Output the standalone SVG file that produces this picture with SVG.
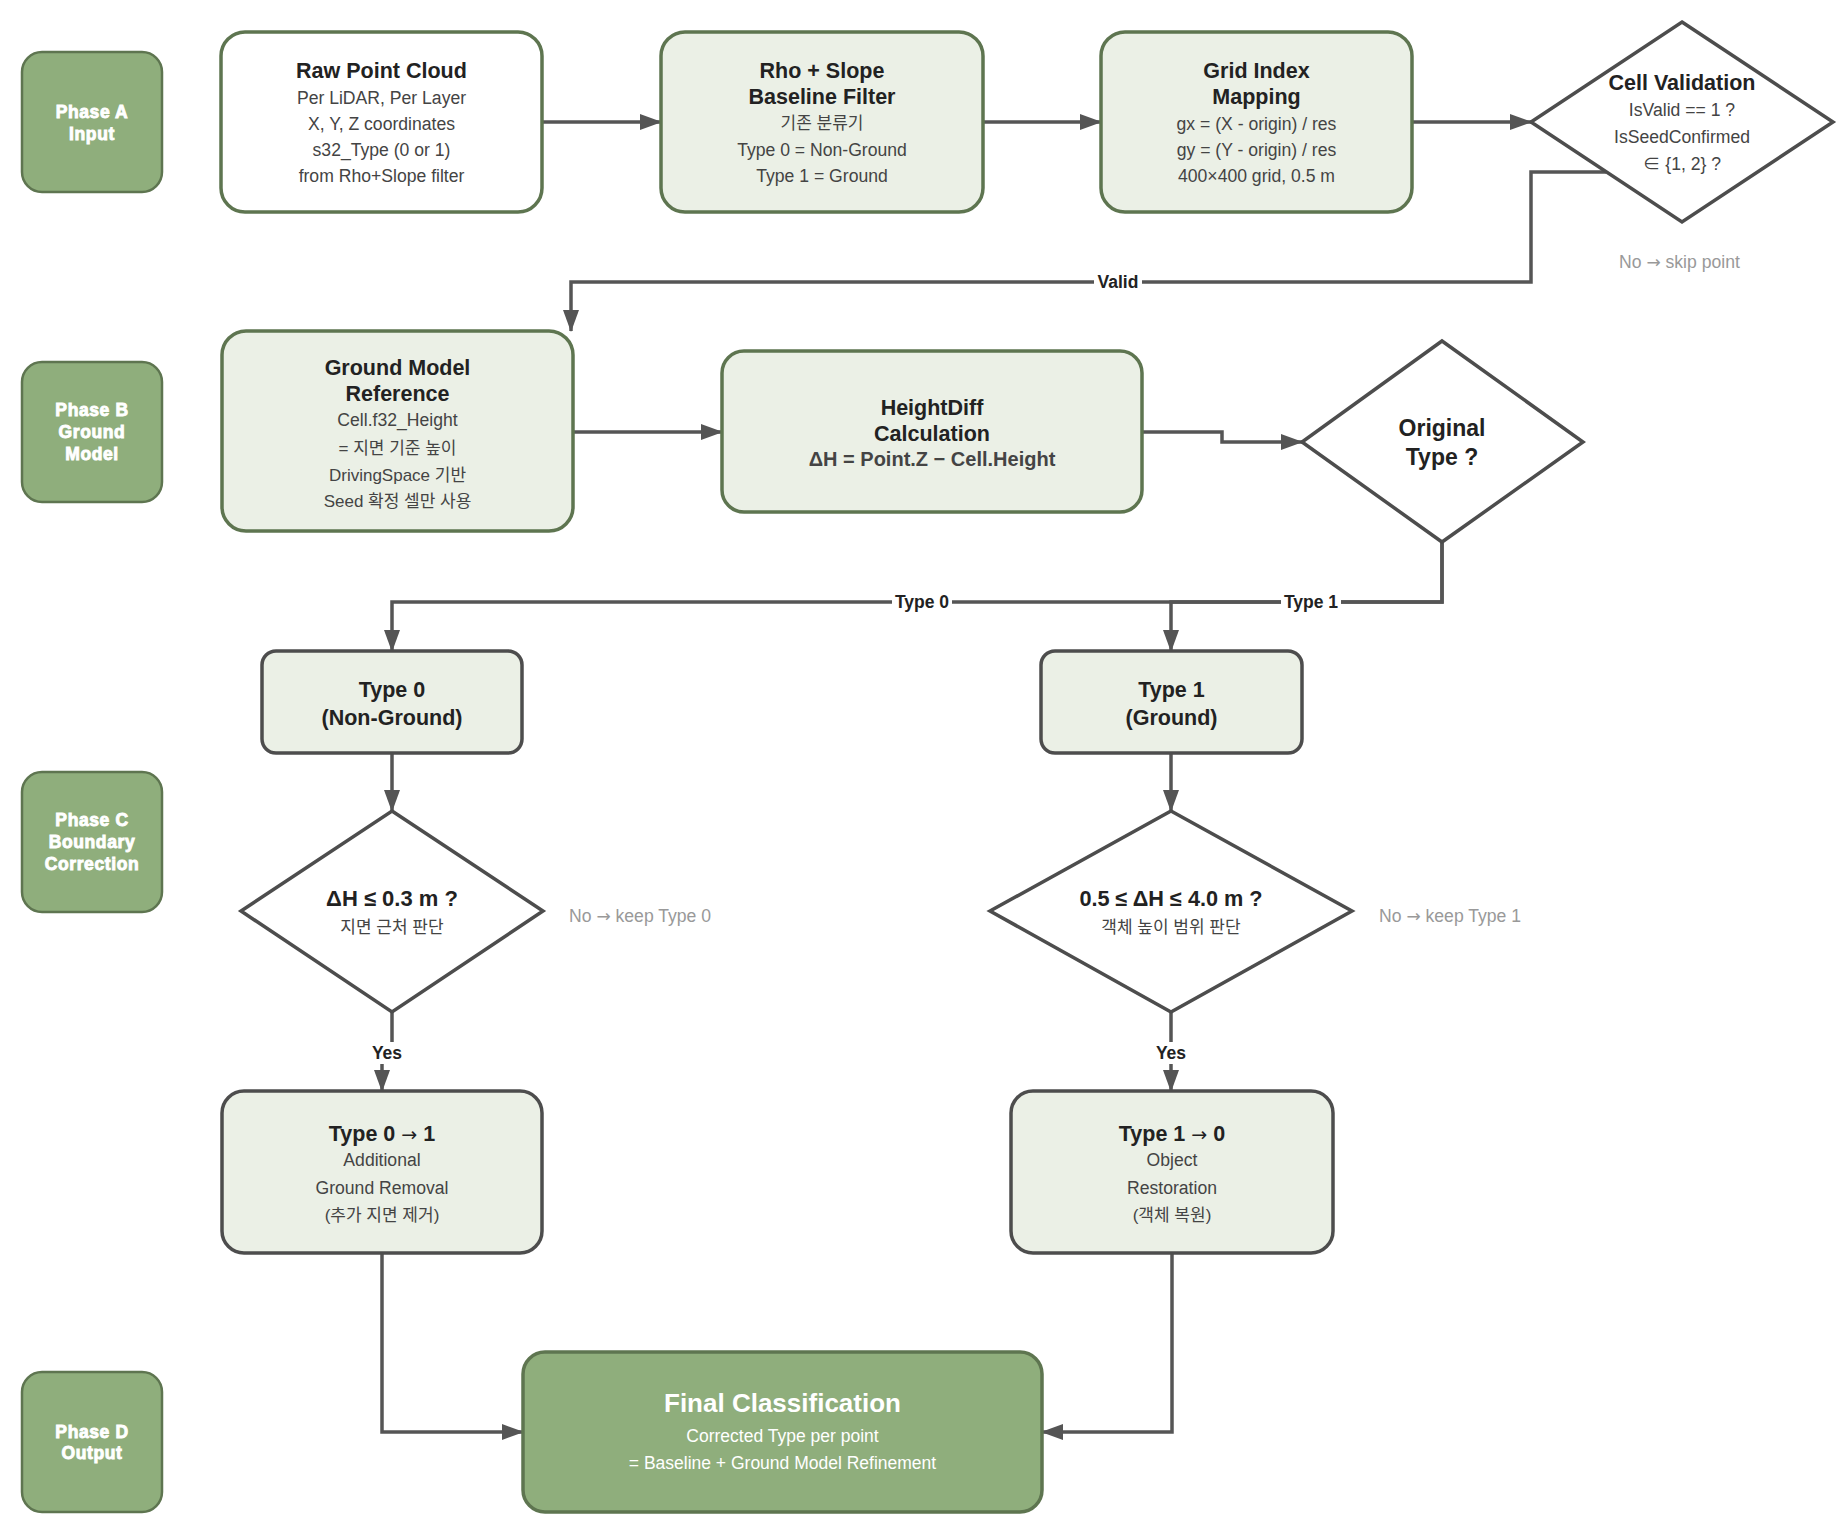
<svg xmlns="http://www.w3.org/2000/svg" width="1846" height="1526" viewBox="0 0 1846 1526">
<defs>
<marker id="arr" markerUnits="userSpaceOnUse" markerWidth="24" markerHeight="18" refX="21" refY="9" orient="auto">
<path d="M0,1 L22,9 L0,17 z" fill="#555555"/>
</marker>
<style>
.phase rect{fill:#8fae7c;stroke:#5e7550;stroke-width:2.5}
.phase text{font-family:"Liberation Sans",Arial,sans-serif;font-weight:bold;font-size:17.5px;fill:#ffffff;stroke:#ffffff;stroke-width:0.9;letter-spacing:0.6px;text-anchor:middle}
.box{fill:#ebf0e6;stroke:#5e7550;stroke-width:3.5}
.boxw{fill:#ffffff;stroke:#5e7550;stroke-width:3.5}
.boxg{fill:#ebf0e6;stroke:#4d4d4d;stroke-width:3.5}
.dia{fill:#ffffff;stroke:#4d4d4d;stroke-width:3.5}
.fin{fill:#8fae7c;stroke:#5e7550;stroke-width:3.5}
text{font-family:"Liberation Sans",Arial,"Noto Sans CJK KR",sans-serif;text-anchor:middle}
.t{font-weight:bold;font-size:21.5px;fill:#222222}
.s{font-size:17.6px;fill:#444444}
.k{font-family:"Liberation Sans","Noto Sans CJK KR",sans-serif;font-size:17px;fill:#444444}
.sb{font-weight:bold;font-size:20px;fill:#444444}
.note{font-size:17.6px;fill:#999999;text-anchor:start}
.lbl{font-weight:bold;font-size:17.5px;fill:#222222}
.ar{font-family:"DejaVu Sans",sans-serif;font-weight:normal}
.conn path{fill:none;stroke:#555555;stroke-width:3.5}
</style>
</defs>
<rect width="1846" height="1526" fill="#ffffff"/>

<g id="phaseA" class="phase"><rect x="22" y="52" width="140" height="140" rx="20"/><text x="92" y="118">Phase A</text><text x="92" y="140">Input</text></g>
<g id="phaseB" class="phase"><rect x="22" y="362" width="140" height="140" rx="20"/><text x="92" y="416">Phase B</text><text x="92" y="438">Ground</text><text x="92" y="460">Model</text></g>
<g id="phaseC" class="phase"><rect x="22" y="772" width="140" height="140" rx="20"/><text x="92" y="826">Phase C</text><text x="92" y="848">Boundary</text><text x="92" y="870">Correction</text></g>
<g id="phaseD" class="phase"><rect x="22" y="1372" width="140" height="140" rx="20"/><text x="92" y="1438">Phase D</text><text x="92" y="1459">Output</text></g>

<g class="conn">
<path d="M542,122 H661" marker-end="url(#arr)"/>
<path d="M983,122 H1101" marker-end="url(#arr)"/>
<path d="M1412,122 H1531" marker-end="url(#arr)"/>
<path d="M1606,172 H1531 V282 H571 V331" marker-end="url(#arr)"/>
<path d="M573,432 H722" marker-end="url(#arr)"/>
<path d="M1142,432 H1222 V442 H1302" marker-end="url(#arr)"/>
<path d="M1442,542 V602 H392 V651" marker-end="url(#arr)"/>
<path d="M1442,542 V602 H1171 V651" marker-end="url(#arr)"/>
<path d="M392,753 V811" marker-end="url(#arr)"/>
<path d="M1171,753 V811" marker-end="url(#arr)"/>
<path d="M392,1012 V1050 H382 V1091" marker-end="url(#arr)"/>
<path d="M1171,1012 V1091" marker-end="url(#arr)"/>
<path d="M382,1253 V1432 H523" marker-end="url(#arr)"/>
<path d="M1172,1253 V1432 H1042" marker-end="url(#arr)"/>
<rect x="1094" y="271" width="48" height="22" fill="#ffffff"/>
<text class="lbl" x="1118" y="288">Valid</text>
<rect x="892" y="591" width="60" height="22" fill="#ffffff"/>
<text class="lbl" x="922" y="608">Type 0</text>
<rect x="1281" y="591" width="60" height="22" fill="#ffffff"/>
<text class="lbl" x="1311" y="608">Type 1</text>
<rect x="369" y="1042" width="36" height="22" fill="#ffffff"/>
<text class="lbl" x="387" y="1059">Yes</text>
<rect x="1153" y="1042" width="36" height="22" fill="#ffffff"/>
<text class="lbl" x="1171" y="1059">Yes</text>
</g>

<g id="raw"><rect class="boxw" x="221" y="32" width="321" height="180" rx="24"/>
<text class="t" x="381.5" y="78">Raw Point Cloud</text>
<text class="s" x="381.5" y="104">Per LiDAR, Per Layer</text>
<text class="s" x="381.5" y="130">X, Y, Z coordinates</text>
<text class="s" x="381.5" y="156">s32_Type (0 or 1)</text>
<text class="s" x="381.5" y="182">from Rho+Slope filter</text></g>

<g id="rho"><rect class="box" x="661" y="32" width="322" height="180" rx="24"/>
<text class="t" x="822" y="78">Rho + Slope</text>
<text class="t" x="822" y="104">Baseline Filter</text>
<text class="k" x="822" y="129">기존 분류기</text>
<text class="s" x="822" y="156">Type 0 = Non-Ground</text>
<text class="s" x="822" y="182">Type 1 = Ground</text></g>

<g id="grid"><rect class="box" x="1101" y="32" width="311" height="180" rx="24"/>
<text class="t" x="1256.5" y="78">Grid Index</text>
<text class="t" x="1256.5" y="104">Mapping</text>
<text class="s" x="1256.5" y="130">gx = (X - origin) / res</text>
<text class="s" x="1256.5" y="156">gy = (Y - origin) / res</text>
<text class="s" x="1256.5" y="182">400×400 grid, 0.5 m</text></g>

<g id="cellval"><path class="dia" d="M1682,22 L1833,122 L1682,222 L1531,122 z"/>
<text class="t" x="1682" y="90">Cell Validation</text>
<text class="s" x="1682" y="116">IsValid == 1 ?</text>
<text class="s" x="1682" y="143">IsSeedConfirmed</text>
<text class="s" x="1682" y="170">∈ {1, 2} ?</text></g>
<text class="note" x="1619" y="268">No <tspan class="ar" font-size="17">→</tspan> skip point</text>

<g id="groundmodel"><rect class="box" x="222" y="331" width="351" height="200" rx="24"/>
<text class="t" x="397.5" y="375">Ground Model</text>
<text class="t" x="397.5" y="401">Reference</text>
<text class="s" x="397.5" y="426">Cell.f32_Height</text>
<text class="k" x="397.5" y="454">= 지면 기준 높이</text>
<text class="k" x="397.5" y="481">DrivingSpace 기반</text>
<text class="k" x="397.5" y="507">Seed 확정 셀만 사용</text></g>

<g id="heightdiff"><rect class="box" x="722" y="351" width="420" height="161" rx="22"/>
<text class="t" x="932" y="415">HeightDiff</text>
<text class="t" x="932" y="441">Calculation</text>
<text class="sb" x="932" y="466">ΔH = Point.Z − Cell.Height</text></g>

<g id="origtype"><path class="dia" d="M1442,341 L1583,442 L1442,542 L1302,442 z"/>
<text class="t" x="1442" y="436" style="font-size:23px">Original</text>
<text class="t" x="1442" y="465" style="font-size:23px">Type ?</text></g>

<g id="type0"><rect class="boxg" x="262" y="651" width="260" height="102" rx="14"/>
<text class="t" x="392" y="697">Type 0</text>
<text class="t" x="392" y="725">(Non-Ground)</text></g>

<g id="type1"><rect class="boxg" x="1041" y="651" width="261" height="102" rx="14"/>
<text class="t" x="1171.5" y="697">Type 1</text>
<text class="t" x="1171.5" y="725">(Ground)</text></g>

<g id="cond0"><path class="dia" d="M392,811 L543,911 L392,1012 L241,911 z"/>
<text class="t" x="392" y="906" style="font-size:22px">ΔH ≤ 0.3 m ?</text>
<text class="k" x="392" y="933">지면 근처 판단</text></g>
<text class="note" x="569" y="922">No <tspan class="ar" font-size="17">→</tspan> keep Type 0</text>

<g id="cond1"><path class="dia" d="M1171,811 L1352,911 L1171,1012 L990,911 z"/>
<text class="t" x="1171" y="906" style="font-size:21.7px">0.5 ≤ ΔH ≤ 4.0 m ?</text>
<text class="k" x="1171" y="933">객체 높이 범위 판단</text></g>
<text class="note" x="1379" y="922">No <tspan class="ar" font-size="17">→</tspan> keep Type 1</text>

<g id="t01"><rect class="boxg" x="222" y="1091" width="320" height="162" rx="22"/>
<text class="t" x="382" y="1141">Type 0 <tspan class="ar" font-size="19">→</tspan> 1</text>
<text class="s" x="382" y="1166">Additional</text>
<text class="s" x="382" y="1194">Ground Removal</text>
<text class="k" x="382" y="1221">(추가 지면 제거)</text></g>

<g id="t10"><rect class="boxg" x="1011" y="1091" width="322" height="162" rx="22"/>
<text class="t" x="1172" y="1141">Type 1 <tspan class="ar" font-size="19">→</tspan> 0</text>
<text class="s" x="1172" y="1166">Object</text>
<text class="s" x="1172" y="1194">Restoration</text>
<text class="k" x="1172" y="1221">(객체 복원)</text></g>

<g id="final"><rect class="fin" x="523" y="1352" width="519" height="160" rx="22"/>
<text x="782.5" y="1412" style="font-weight:bold;font-size:26px;fill:#ffffff">Final Classification</text>
<text x="782.5" y="1442" style="font-size:17.5px;fill:#ffffff">Corrected Type per point</text>
<text x="782.5" y="1469" style="font-size:17.5px;fill:#ffffff">= Baseline + Ground Model Refinement</text></g>
</svg>
